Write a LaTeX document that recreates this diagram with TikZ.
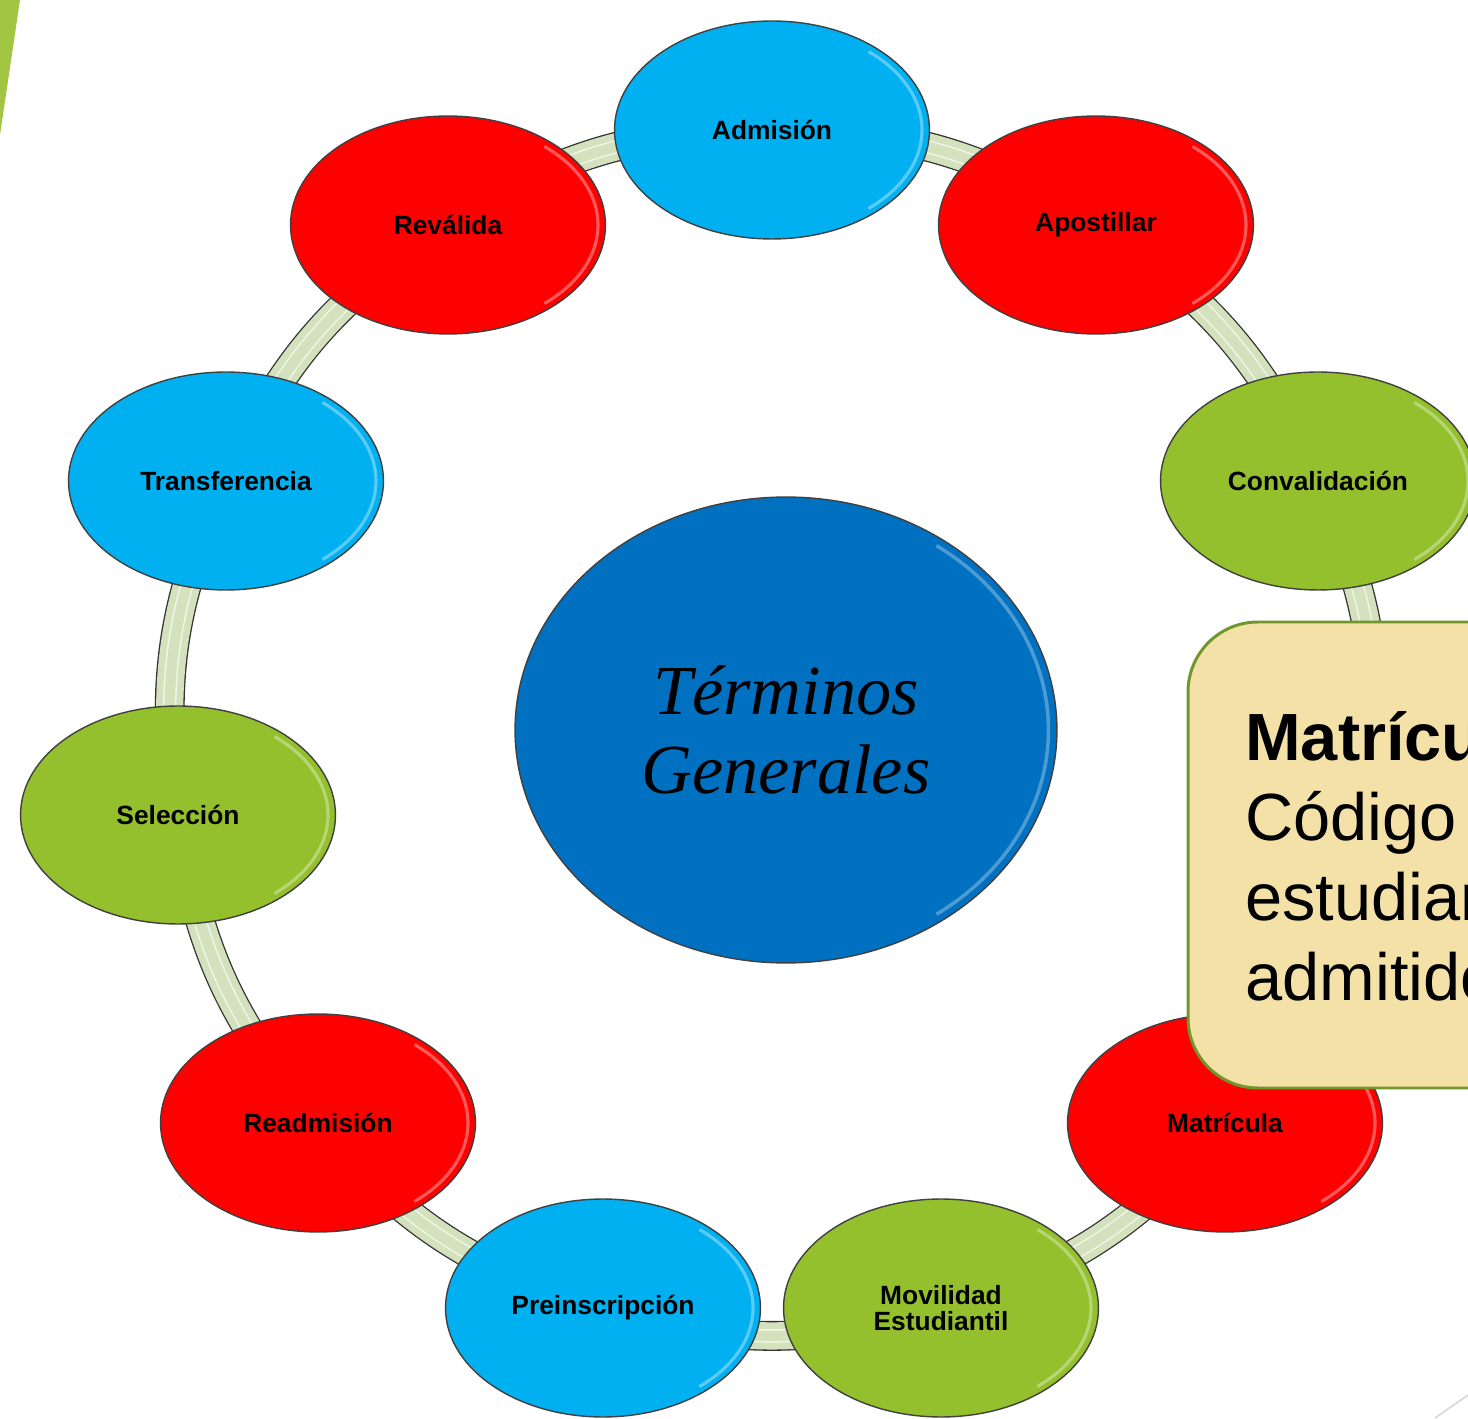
\documentclass[tikz,border=0pt]{standalone}
\usepackage{fontspec}
\setmainfont{Liberation Sans}
\newfontfamily\titlefont{Liberation Serif}
\usetikzlibrary{shapes.geometric,backgrounds}
\definecolor{tblue}{HTML}{00B0F0}
\definecolor{tred}{HTML}{FF0000}
\definecolor{tgreen}{HTML}{93C02C}
\definecolor{cblue}{HTML}{0070C0}
\definecolor{band}{HTML}{D3E2BD}
\definecolor{boxfill}{HTML}{F3E1A8}
\definecolor{boxline}{HTML}{71962C}
\definecolor{slidegreen}{HTML}{A2C644}

\begin{document}
\begin{tikzpicture}
[x=0.02cm,y=0.02cm,
term/.style={ellipse,draw=black!75,line width=0.8pt,inner sep=0pt,
  minimum width=6.3cm,minimum height=4.36cm,align=center,
  font=\bfseries\fontsize{15}{15}\selectfont,
  path picture={\draw[white,opacity=.35,line width=1.8pt]
    ([shift={(-50:3.0cm and 2.05cm)}]path picture bounding box.center)
    arc[start angle=-50,end angle=50,x radius=3.0cm,y radius=2.05cm];}},
link/.style={bend left=16.4}]
\useasboundingbox (0,0) rectangle (1468,1418);
\clip (0,0) rectangle (1468,1418);
\fill[slidegreen] (0,1418) -- (20,1418) -- (0,1283) -- cycle;
\draw[black!15,line width=1pt] (1435,0) -- (1468,23);
% ring of terms
\node[term,fill=tblue] (n1) at (772,1288) {Admisión};
\node[term,fill=tred] (n2) at (1096,1193) {Apostillar};
\node[term,fill=tgreen] (n3) at (1318,937) {Convalidación};
\coordinate (n4) at (1366,603);
\node[term,fill=tred] (n5) at (1225,295) {Matrícula};
\node[term,fill=tgreen] (n6) at (941,110) {Movilidad\\Estudiantil};
\node[term,fill=tblue] (n7) at (603,110) {Preinscripción};
\node[term,fill=tred] (n8) at (318,295) {Readmisión};
\node[term,fill=tgreen] (n9) at (178,603) {Selección};
\node[term,fill=tblue] (n10) at (226,937) {Transferencia};
\node[term,fill=tred] (n11) at (448,1193) {Reválida};
\begin{pgfonlayer}{background}
\foreach \from/\to in {n1/n2,n2/n3,n3/n4,n4/n5,n5/n6,n6/n7,n7/n8,n8/n9,n9/n10,n10/n11,n11/n1}
{
\draw[black!80,line width=17pt] (\from.center) to[link] (\to.center);
\draw[band,line width=15.5pt] (\from.center) to[link] (\to.center);
\draw[white!70!band,line width=0.8pt,double=band,double distance=6pt] (\from.center) to[link] (\to.center);
}
\end{pgfonlayer}
% centre
\node[ellipse,draw=black!75,line width=0.8pt,fill=cblue,inner sep=0pt,
  minimum width=10.84cm,minimum height=9.32cm,align=center,
  font=\titlefont\itshape\fontsize{40}{45}\selectfont,
  path picture={\draw[white,opacity=.3,line width=2pt]
    ([shift={(-55:5.25cm and 4.5cm)}]path picture bounding box.center)
    arc[start angle=-55,end angle=55,x radius=5.25cm,y radius=4.5cm];}]
  (tg) at (786,688) {Términos\\Generales};
% definition box
\draw[boxline,fill=boxfill,line width=1.7pt,rounded corners=1.4cm] (1188,330) rectangle (1560,796);
\node[anchor=base west,align=left,inner sep=0pt,font=\fontsize{38}{45.5}\selectfont] (defn) at (1245,418)
  {\textbf{Matrícula}\\Código\\estudiante\\admitido};
\end{tikzpicture}
\end{document}
